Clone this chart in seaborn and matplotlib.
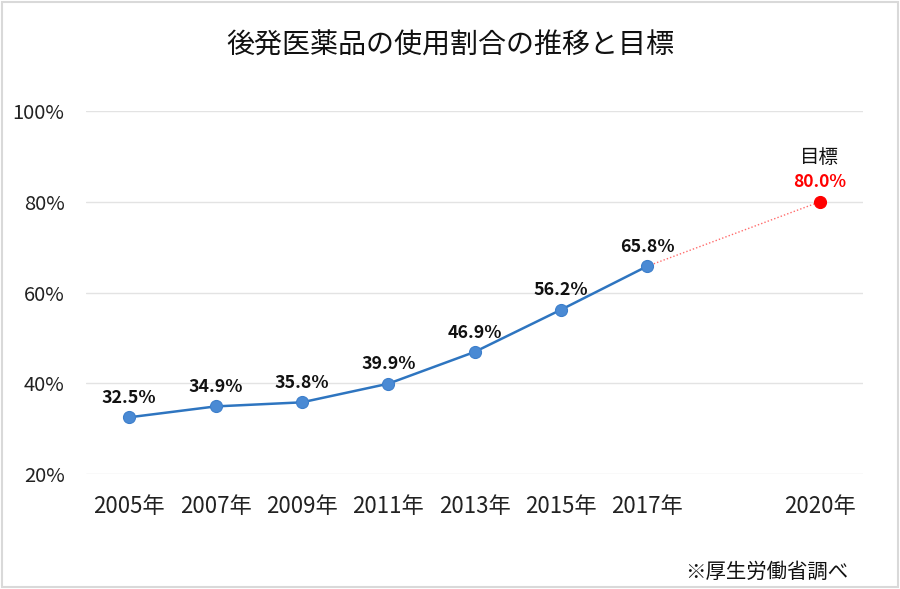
import matplotlib
matplotlib.use("Agg")
import matplotlib.pyplot as plt
import seaborn as sns
import pandas as pd
from matplotlib.patches import Rectangle

sns.set_theme(style="white")
plt.rcParams['font.family'] = ['Noto Sans CJK JP', 'DejaVu Sans']

categories = ['2005年', '2007年', '2009年', '2011年', '2013年', '2015年', '2017年', '', '2020年']
years = ['2005年', '2007年', '2009年', '2011年', '2013年', '2015年', '2017年']
values = [32.5, 34.9, 35.8, 39.9, 46.9, 56.2, 65.8]
target_year = '2020年'
target_value = 80.0
yticks = [20, 40, 60, 80, 100]
title = '後発医薬品の使用割合の推移と目標'
source = '※厚生労働省調べ'

pos = {c: i for i, c in enumerate(categories)}
df = pd.DataFrame({'x': [pos[y] for y in years], 'v': values})
df_t = pd.DataFrame({'x': [pos[years[-1]], pos[target_year]], 'v': [values[-1], target_value]})

fig = plt.figure(figsize=(9, 5.89), dpi=100)
ax = fig.add_axes([0.0956, 0.1952, 0.8634, 0.6163])

ax.set_ylim(20, 100)
ax.set_xlim(-0.5, len(categories) - 0.5)
ax.set_yticks(yticks)
ax.set_yticklabels([f'{t}%' for t in yticks])
ax.yaxis.grid(True, color='#e3e3e3', linewidth=1)
ax.set_axisbelow(True)

sns.lineplot(data=df_t, x='x', y='v', ax=ax, color='#ff6b6b', linewidth=1,
             linestyle=(0, (1, 1.5)), zorder=2)
sns.lineplot(data=df, x='x', y='v', ax=ax, color='#2e75c0', linewidth=1.8, zorder=3)
sns.scatterplot(data=df, x='x', y='v', ax=ax, color='#4a8ad4', s=75,
                edgecolor='#3d7fcb', linewidth=0.8, zorder=4)
sns.scatterplot(data=df_t.iloc[[1]], x='x', y='v', ax=ax, color='#ff0000', s=75,
                edgecolor='#ff0000', linewidth=0.8, zorder=4)

for x, v in zip(df['x'], df['v']):
    ax.annotate(f'{v:.1f}%', (x, v), xytext=(0, 7.5), textcoords='offset points',
                ha='center', va='bottom', fontsize=12.8, fontweight='bold', color='#111111')
xt = pos[target_year]
ax.annotate(f'{target_value:.1f}%', (xt, target_value), xytext=(0, 8), textcoords='offset points',
            ha='center', va='bottom', fontsize=12.5, fontweight='bold', color='#ff0000')
ax.annotate('目標', (xt, target_value), xytext=(0, 24), textcoords='offset points',
            ha='center', va='bottom', fontsize=14, color='#111111')

ax.set_xticks(range(len(categories)))
ax.set_xticklabels(categories)
ax.tick_params(axis='x', length=0, labelsize=16, colors='#222222', pad=15)
ax.tick_params(axis='y', length=0, labelsize=14.5, colors='#222222', pad=15.5)
ax.set_xlabel('')
ax.set_ylabel('')
for s in ax.spines.values():
    s.set_visible(False)

fig.text(0.5, 0.922, title, ha='center', va='center', fontsize=20.2, color='#111111')
fig.text(0.943, 0.028, source, ha='right', va='center', fontsize=14.7, color='#111111')

fig.patches.append(Rectangle((0.002, 0.003), 0.996, 0.994, transform=fig.transFigure,
                             fill=False, edgecolor='#d9d9d9', linewidth=1.5))

fig.savefig('out.png', dpi=100)
